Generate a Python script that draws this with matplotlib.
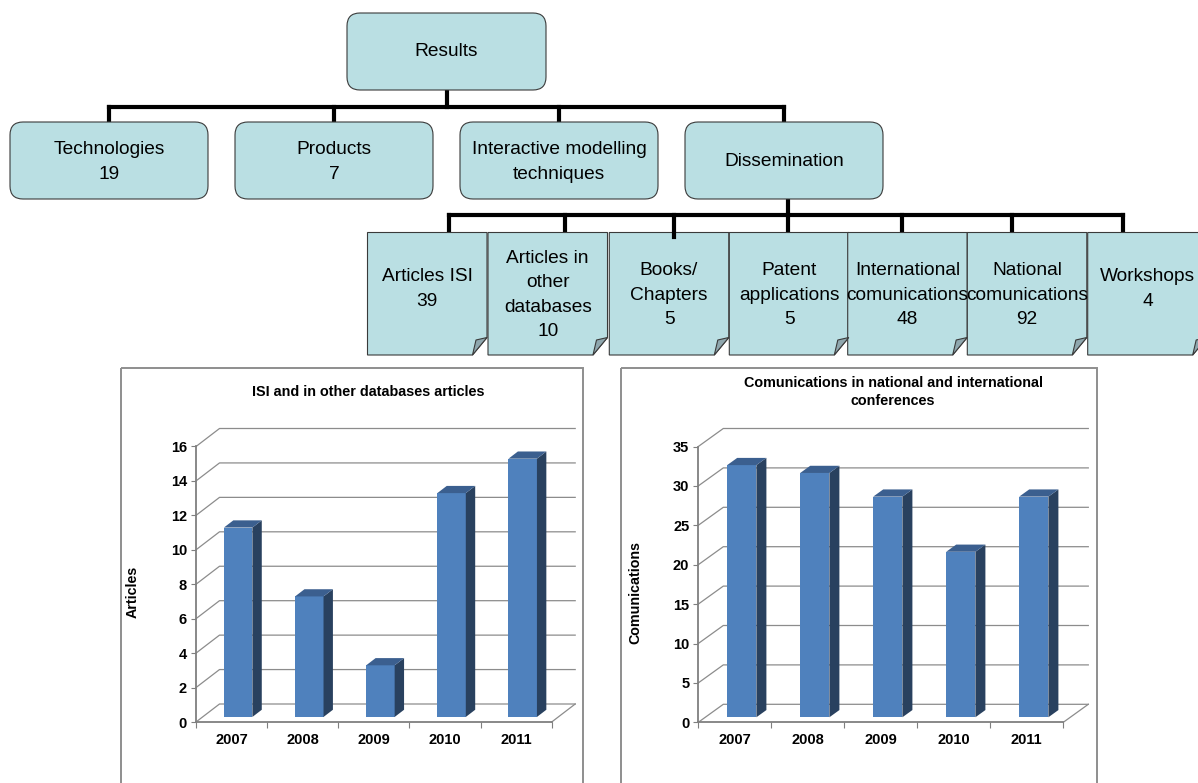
import numpy as np
import matplotlib
matplotlib.use("Agg")
import matplotlib.pyplot as plt
from matplotlib.patches import FancyBboxPatch, Polygon, Rectangle

plt.rcParams['font.family'] = ['Liberation Sans', 'DejaVu Sans']

# --- data ---
root_label = "Results"
level1_names = ["Technologies", "Products", "Interactive modelling\ntechniques", "Dissemination"]
level1_counts = [19, 7, None, None]
dissem_names = ["Articles ISI", "Articles in\nother\ndatabases", "Books/\nChapters",
                "Patent\napplications", "International\ncomunications",
                "National\ncomunications", "Workshops"]
dissem_counts = [39, 10, 5, 5, 48, 92, 4]

years = ["2007", "2008", "2009", "2010", "2011"]
articles = [11, 7, 3, 13, 15]
comunications = [32, 31, 28, 21, 28]

W, H = 1198, 783
BOX = "#badfe3"
EDGE = "#3a3a3a"
GRID = "#8c8c8c"
FRONT, SIDE, TOP = "#4f81bd", "#29415f", "#3b5f8f"
TREE_FS = 13.8
TREE_LS = 1.58

fig = plt.figure(figsize=(W / 100, H / 100), dpi=100)


def px_rect(x0, y0, x1, y1):
    # pixel box (image coords, y down) -> figure fraction rect
    return [x0 / W, 1 - y1 / H, (x1 - x0) / W, (y1 - y0) / H]


def label_of(name, count):
    return name if count is None else "%s\n%d" % (name, count)


# --- organisation chart, drawn in pixel space ---
tree = fig.add_axes([0, 0, 1, 1])
tree.set_xlim(0, W)
tree.set_ylim(H, 0)
tree.axis("off")


def round_box(x0, y0, x1, y1, text, cy=None):
    tree.add_patch(FancyBboxPatch((x0, y0), x1 - x0, y1 - y0,
                                  boxstyle="round,pad=0,rounding_size=13",
                                  fc=BOX, ec=EDGE, lw=0.8, zorder=2))
    tree.text((x0 + x1) / 2, cy if cy else (y0 + y1) / 2, text, ha="center",
              va="center", fontsize=TREE_FS, linespacing=TREE_LS, zorder=3)


def note_box(x0, y0, x1, y1, text, cy):
    fx, fy = 14.5, 17.5
    tree.add_patch(Polygon([(x0, y0), (x1, y0), (x1, y1 - fy), (x1 - fx, y1), (x0, y1)],
                           closed=True, fc=BOX, ec=EDGE, lw=0.8, zorder=2))
    tree.add_patch(Polygon([(x1 - fx, y1), (x1 - fx + 3.5, y1 - 15), (x1, y1 - fy)],
                           closed=True, fc="#8fa7ae", ec=EDGE, lw=0.8, zorder=3))
    tree.text((x0 + x1) / 2, cy, text, ha="center", va="center",
              fontsize=TREE_FS, linespacing=TREE_LS, zorder=3)


LW = 3.0
# root
round_box(347, 13, 546, 90, root_label)
tree.plot([447, 447], [90, 107], color="k", lw=LW, zorder=1)
l1_lefts = [10, 235, 460, 685]
l1_centers = [x + 99 for x in l1_lefts]
l1_centers[3] = 784
tree.plot([l1_centers[0], l1_centers[-1]], [107, 107], color="k", lw=LW,
          solid_capstyle="projecting", zorder=1)
for x, cx, name, cnt in zip(l1_lefts, l1_centers, level1_names, level1_counts):
    tree.plot([cx, cx], [107, 122], color="k", lw=LW, zorder=1)
    round_box(x, 122, x + 198, 199, label_of(name, cnt), cy=162)

# dissemination children
drops = [449, 565, 674, 788, 902, 1012, 1123]
tree.plot([788, 788], [199, 215], color="k", lw=LW, zorder=1)
tree.plot([drops[0], drops[-1]], [215, 215], color="k", lw=LW,
          solid_capstyle="projecting", zorder=1)
n_lefts = [367.5, 488, 609.3, 729.3, 847.7, 967.3, 1087.7]
for i, (x, name, cnt) in enumerate(zip(n_lefts, dissem_names, dissem_counts)):
    end = 237 if i == 2 else 233
    tree.plot([drops[i], drops[i]], [215, end], color="k", lw=LW, zorder=4 if i == 2 else 1)
    txt = label_of(name, cnt)
    cy = 289 if txt.count("\n") == 1 else 295
    note_box(x, 232.5, x + 119.5, 355, txt, cy)

# chart frames
for x0, x1 in [(121, 583), (621, 1096.5)]:
    tree.add_patch(Rectangle((x0, 367.5), x1 - x0, 430, fc="none", ec="#8e8e8e",
                             lw=1.4, zorder=1))

fig.text(368 / W, 1 - 392 / H, "ISI and in other databases articles",
         ha="center", va="center", fontsize=10.4, fontweight="bold")
fig.text(893 / W, 1 - 392 / H, "Comunications in national and international\nconferences",
         ha="center", va="center", fontsize=10.4, fontweight="bold", linespacing=1.4)


def bar_chart(rect, values, ymax, step, ylabel, depth):
    n = len(values)
    ax = fig.add_axes(px_rect(*rect))
    ax.set_xlim(-0.5, n - 0.5)
    ax.set_ylim(0, ymax)
    ax.patch.set_visible(False)
    ppx = (rect[2] - rect[0]) / n
    ppy = (rect[3] - rect[1]) / ymax
    ddx, ddy = depth[0] / ppx, depth[1] / ppy
    x0, x1 = -0.5, n - 0.5
    ticks = np.arange(0, ymax + step / 2, step)

    # walls and floor
    for t in ticks:
        ax.plot([x0, x0 + ddx, x1 + ddx], [t, t + ddy, t + ddy], color=GRID,
                lw=0.9, clip_on=False, zorder=1)
    ax.plot([x1, x1 + ddx], [0, ddy], color=GRID, lw=0.9, clip_on=False, zorder=1)

    # bars with depth
    f1, f2, bw = 0.28, 0.68, 0.40
    xs = np.arange(n) + f1 * ddx
    ax.bar(xs, values, width=bw, bottom=f1 * ddy, color=FRONT, zorder=3, clip_on=False)
    bdx, bdy = (f2 - f1) * ddx, (f2 - f1) * ddy
    for xc, v in zip(xs, values):
        xl, xr = xc - bw / 2, xc + bw / 2
        yb, yt = f1 * ddy, v + f1 * ddy
        ax.add_patch(Polygon([(xr, yb), (xr + bdx, yb + bdy), (xr + bdx, yt + bdy), (xr, yt)],
                             closed=True, fc=SIDE, ec="none", zorder=3, clip_on=False))
        ax.add_patch(Polygon([(xl, yt), (xr, yt), (xr + bdx, yt + bdy), (xl + bdx, yt + bdy)],
                             closed=True, fc=TOP, ec="none", zorder=3, clip_on=False))

    for s in ["top", "right"]:
        ax.spines[s].set_visible(False)
    for s in ["left", "bottom"]:
        ax.spines[s].set_color("#7f7f7f")
        ax.spines[s].set_linewidth(1.3)
        ax.spines[s].set_zorder(4)

    ax.set_yticks(ticks)
    ax.set_yticklabels(["%d" % t for t in ticks])
    ax.tick_params(axis="y", length=3.5, color="#7f7f7f", pad=3, labelsize=10.5)
    ax.set_xticks(np.arange(-0.5, n, 1))
    ax.set_xticklabels([])
    ax.set_xticks(np.arange(n), minor=True)
    ax.set_xticklabels(years, minor=True)
    ax.tick_params(axis="x", which="major", length=4, color="#7f7f7f")
    ax.tick_params(axis="x", which="minor", length=0, pad=8, labelsize=10.5)
    for lab in ax.get_yticklabels() + ax.get_xticklabels(minor=True):
        lab.set_fontweight("bold")

    ax.set_ylabel(ylabel, fontsize=10.3, fontweight="bold")
    ax.yaxis.set_label_coords(-56 / (rect[2] - rect[0]), (rect[3] - 592) / (rect[3] - rect[1]))
    return ax


bar_chart((196, 446.5, 551.7, 722), articles, 16, 2, "Articles", (23.5, 18))
bar_chart((698.3, 446.5, 1063.3, 722.3), comunications, 35, 5, "Comunications", (25, 18))

fig.savefig("out.png", dpi=100)
